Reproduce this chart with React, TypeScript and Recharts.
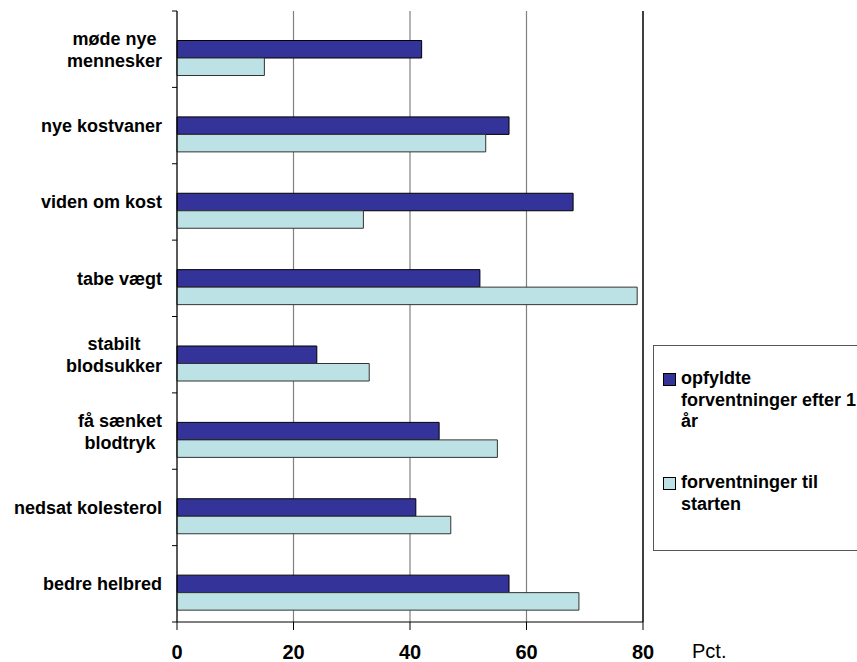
import React from "react";
import { BarChart, Bar, XAxis, YAxis, CartesianGrid, ReferenceLine } from "recharts";

// categories top to bottom, "\n" marks a line break in the axis label
const categories = [
  "møde nye\nmennesker",
  "nye kostvaner",
  "viden om kost",
  "tabe vægt",
  "stabilt\nblodsukker",
  "få sænket\nblodtryk",
  "nedsat kolesterol",
  "bedre helbred",
];
const opfyldte = [42, 57, 68, 52, 24, 45, 41, 57];
const forventninger = [15, 53, 32, 79, 33, 55, 47, 69];
const xTicks = [0, 20, 40, 60, 80];

const seriesNames = ["opfyldte\nforventninger efter 1\når", "forventninger til\nstarten"];
const DARK = "#333399";
const LIGHT = "#bce2e5";

const data = categories.map((name, i) => ({
  name,
  opfyldte: opfyldte[i],
  forventninger: forventninger[i],
}));

const W = 857;
const H = 662;
const TOP = 11;
const X_AXIS_H = 40;
const Y_AXIS_W = 177;
const BAND = (H - TOP - X_AXIS_H) / categories.length;
const FONT = "'Liberation Sans', Arial, sans-serif";

let ctx: CanvasRenderingContext2D | null = null;
const measure = (s: string) => {
  if (!ctx) ctx = document.createElement("canvas").getContext("2d");
  if (!ctx) return s.length * 10;
  ctx.font = `bold 18px ${FONT}`;
  return ctx.measureText(s).width;
};

const YTick = (props: any) => {
  const { x, y, payload, index } = props;
  const lines = String(payload.value).split("\n");
  const maxW = Math.max(...lines.map(measure));
  const right = x - 15;
  const cx = right - maxW / 2;
  const baselines = lines.length === 1 ? [y + 6.5] : [y - 4.5, y + 17.5];
  return (
    <g>
      <line x1={x - 5} x2={x} y1={y - BAND / 2} y2={y - BAND / 2} stroke="#000" />
      {index === categories.length - 1 && (
        <line x1={x - 5} x2={x} y1={y + BAND / 2} y2={y + BAND / 2} stroke="#000" />
      )}
      {lines.map((l, i) => (
        <text
          key={i}
          x={lines.length === 1 ? right : cx}
          y={baselines[i]}
          textAnchor={lines.length === 1 ? "end" : "middle"}
          fontFamily={FONT}
          fontWeight="bold"
          fontSize={18}
          fill="#000"
        >
          {l}
        </text>
      ))}
    </g>
  );
};

const XTick = (props: any) => {
  const { x, payload } = props;
  return (
    <text x={x} y={H - 3} textAnchor="middle" fontFamily={FONT} fontWeight="bold" fontSize={20} fill="#000">
      {payload.value}
    </text>
  );
};

const LegendBox = () => (
  <div
    style={{
      position: "absolute",
      left: 653,
      top: 345,
      width: 215,
      height: 206,
      border: "1px solid #555",
      boxSizing: "border-box",
      fontFamily: FONT,
      fontWeight: "bold",
      fontSize: 18,
      lineHeight: "21.5px",
      color: "#000",
    }}
  >
    {seriesNames.map((n, i) => (
      <div key={i} style={{ position: "absolute", left: 9, top: i === 0 ? 22 : 126, display: "flex" }}>
        <div
          style={{
            width: 11,
            height: 11,
            marginTop: 5,
            marginRight: 5,
            background: i === 0 ? DARK : LIGHT,
            border: "1px solid #000",
            flexShrink: 0,
          }}
        />
        <div style={{ whiteSpace: "pre" }}>{n}</div>
      </div>
    ))}
  </div>
);

export default function App() {
  return (
    <div style={{ position: "relative", width: W, height: H, overflow: "hidden", background: "#fff" }}>
      <style>{`body{margin:0}`}</style>
      <BarChart
        width={W}
        height={H}
        data={data}
        layout="vertical"
        margin={{ top: TOP, right: W - 643, bottom: 0, left: 0 }}
        barGap={0}
        barSize={17.5}
      >
        <CartesianGrid horizontal={false} stroke="#808080" strokeWidth={1.2} />
        <XAxis
          type="number"
          domain={[0, 80]}
          ticks={xTicks}
          height={X_AXIS_H}
          axisLine={{ stroke: "#000" }}
          tickLine={{ stroke: "#000" }}
          tickSize={8}
          tick={<XTick />}
          interval={0}
          label={{
            content: (p: any) => {
              const vb = p.viewBox || {};
              return (
                <text x={(vb.x || 0) + (vb.width || 0) + 49} y={H - 4} fontFamily={FONT} fontSize={20} fill="#000">
                  Pct.
                </text>
              );
            },
          }}
        />
        <YAxis
          type="category"
          dataKey="name"
          width={Y_AXIS_W}
          axisLine={{ stroke: "#000" }}
          tickLine={false}
          tickSize={0}
          tickMargin={0}
          interval={0}
          tick={<YTick />}
        />
        <ReferenceLine x={80} stroke="#222" strokeWidth={1.6} />
        <Bar dataKey="spacer" fill="none" isAnimationActive={false} />
        <Bar dataKey="opfyldte" fill={DARK} stroke="#000" strokeWidth={1} isAnimationActive={false} />
        <Bar dataKey="forventninger" fill={LIGHT} stroke="#333" strokeWidth={1} isAnimationActive={false} />
      </BarChart>
      <LegendBox />
    </div>
  );
}
